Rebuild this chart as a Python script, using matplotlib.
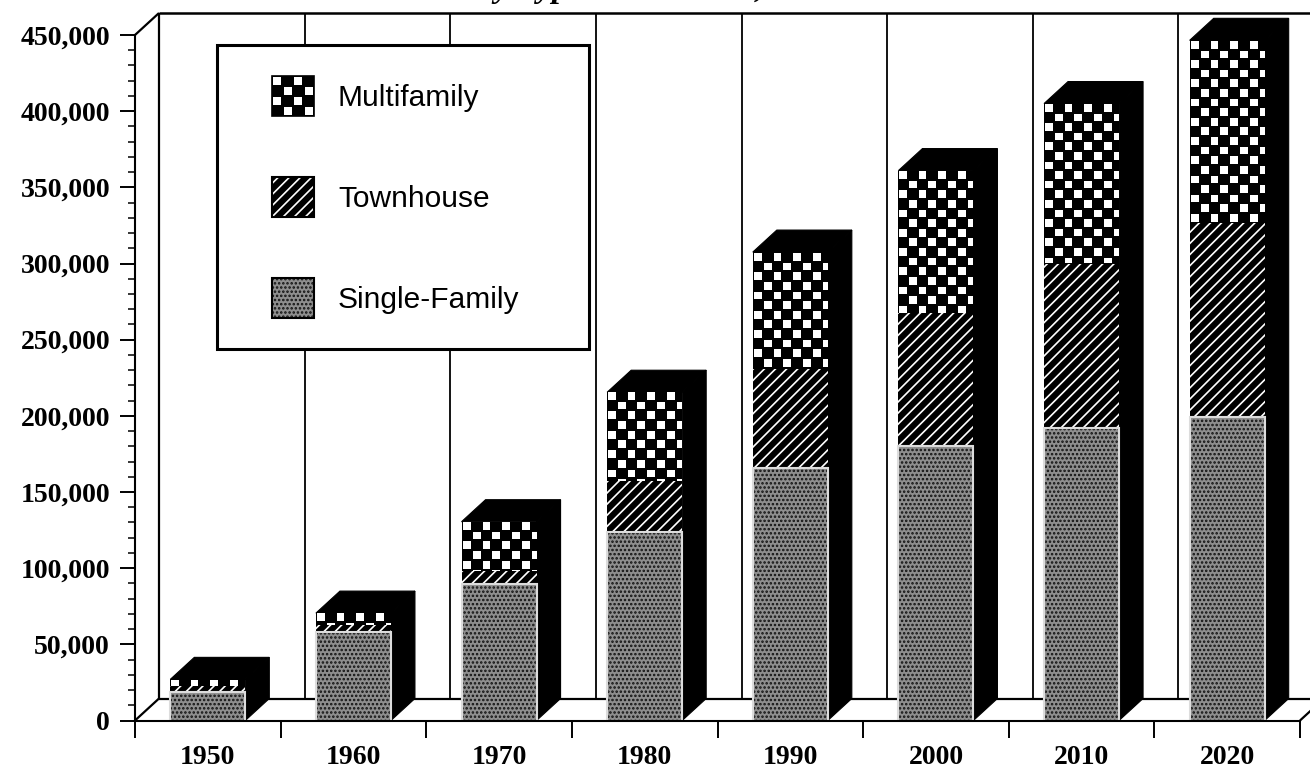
import numpy as np
import matplotlib
matplotlib.use('Agg')
import matplotlib.pyplot as plt
from matplotlib.patches import Polygon, Rectangle, Patch
from matplotlib.legend_handler import HandlerBase
from matplotlib.ticker import MultipleLocator, FuncFormatter

# ---------------- data ----------------
years = ['1950', '1960', '1970', '1980', '1990', '2000', '2010', '2020']
single_family = [19000, 58000, 89500, 124000, 166000, 180000, 192000, 199500]
townhouse = [3500, 4500, 8500, 33000, 65000, 87500, 108000, 127000]
multifamily = [4500, 8000, 32500, 58500, 76500, 93500, 105000, 120000]
series_names = ['Multifamily', 'Townhouse', 'Single-Family']
title_text = 'Total Units by Type and Decade, 1950-2020'
y_max = 450000
y_major = 50000
y_minor = 10000

plt.rcParams['hatch.linewidth'] = 1.2

W, H = 1310, 774
fig = plt.figure(figsize=(W / 100, H / 100), dpi=100)
ax_left, ax_right, ax_top, ax_bottom = 135, 1300, 35, 720.5
ax = fig.add_axes([ax_left / W, 1 - ax_bottom / H,
                   (ax_right - ax_left) / W, (ax_bottom - ax_top) / H])

n = len(years)
x = np.arange(n)
sf = np.array(single_family, float)
th = np.array(townhouse, float)
mf = np.array(multifamily, float)
totals = sf + th + mf

px_x = (ax_right - ax_left) / n
px_y = (ax_bottom - ax_top) / y_max
ddx = 24 / px_x      # depth offset in data units
ddy = 22 / px_y

SF_FACE = '#8e8e8e'
SF_DOTS = '#111111'

# ---------------- back wall & floor ----------------
lk = dict(color='black', clip_on=False, solid_capstyle='butt')
x0w = -0.5 + ddx
far = n - 0.5 + ddx + 1.0
# floor
ax.plot([-0.5, x0w], [0, ddy], lw=1.6, zorder=1, **lk)
ax.plot([x0w, far], [ddy, ddy], lw=1.6, zorder=1, **lk)
ax.plot([n - 0.5, n - 0.5 + ddx], [0, ddy], lw=1.6, zorder=1, **lk)
# wall
ax.plot([x0w, x0w], [ddy, y_max + ddy], lw=1.6, zorder=1, **lk)
ax.plot([-0.5, x0w], [y_max, y_max + ddy], lw=1.6, zorder=1, **lk)
ax.plot([x0w, far], [y_max + ddy, y_max + ddy], lw=1.8, zorder=1, **lk)
for k in range(1, n):
    ax.plot([k - 0.5 + ddx] * 2, [ddy, y_max + ddy], lw=1.3, zorder=1, **lk)

# ---------------- bars ----------------
bw = 0.515
# 3-D side and top faces
for xi, tot in zip(x, totals):
    xr = xi + bw / 2
    xl = xi - bw / 2
    ax.add_patch(Polygon([(xr, 0), (xr + ddx, ddy), (xr + ddx, tot + ddy), (xr, tot)],
                         closed=True, facecolor='black', edgecolor='black', lw=0.8,
                         zorder=3, clip_on=False))
    ax.add_patch(Polygon([(xl, tot), (xl + ddx, tot + ddy), (xr + ddx, tot + ddy), (xr, tot)],
                         closed=True, facecolor='black', edgecolor='black', lw=0.8,
                         zorder=3, clip_on=False))

b_sf = ax.bar(x, sf, bw, color=SF_FACE, edgecolor=SF_DOTS, hatch='....',
              linewidth=0, zorder=4)
for r in b_sf.patches:
    ax.add_patch(Rectangle(r.get_xy(), r.get_width(), r.get_height(), fill=False,
                           edgecolor='#dcdcdc', lw=1.5, zorder=4.5))
b_th = ax.bar(x, th, bw, bottom=sf, color='black', edgecolor='white', hatch='///',
              linewidth=0, zorder=4)
b_mf = ax.bar(x, mf, bw, bottom=sf + th, color='black', linewidth=0, zorder=4)

# checker texture for multifamily
cx = 9.8 / px_x
cy = 9.6 / px_y
S = 10
for xi, top, bot, rect in zip(x, totals, sf + th, b_mf.patches):
    h = top - bot
    if h <= 0:
        continue
    ncol = int(np.ceil(bw / cx)) + 1
    nrow = int(np.ceil(h / cy)) + 1
    rr, cc = np.mgrid[0:nrow * S, 0:ncol * S]
    ri, ci = rr // S, cc // S
    sr, sc = rr % S, cc % S
    white = ((ri + ci) % 2 == 0) & (sr >= 1) & (sr < 9) & (sc >= 1) & (sc < 9)
    img = np.where(white, 1.0, 0.0)
    xl = xi - bw / 2
    im = ax.imshow(img, cmap='gray', vmin=0, vmax=1,
                   extent=(xl, xl + ncol * cx, top - nrow * cy, top),
                   origin='upper', aspect='auto', interpolation='nearest', zorder=4.2)
    im.set_clip_path(rect)

ax.set_xlim(-0.5, n - 0.5)
ax.set_ylim(0, y_max)

# ---------------- axes styling ----------------
for s in ['top', 'right']:
    ax.spines[s].set_visible(False)
for s in ['left', 'bottom']:
    ax.spines[s].set_linewidth(1.5)
    ax.spines[s].set_zorder(6)

ax.yaxis.set_major_locator(MultipleLocator(y_major))
ax.yaxis.set_minor_locator(MultipleLocator(y_minor))
ax.yaxis.set_major_formatter(FuncFormatter(lambda v, p: f'{int(v):,}'))
ax.tick_params(axis='y', which='major', length=11, width=1.4, pad=7, direction='out')
ax.tick_params(axis='y', which='minor', length=5, width=1.1, direction='out')
for lab in ax.get_yticklabels():
    lab.set_fontfamily('Liberation Serif')
    lab.set_fontweight('bold')
    lab.set_fontsize(20)

ax.set_xticks(x)
ax.set_xticklabels(years, fontfamily='Liberation Serif', fontweight='bold', fontsize=20)
ax.set_xticks(np.arange(n + 1) - 0.5, minor=True)
ax.tick_params(axis='x', which='major', length=0, pad=18)
ax.tick_params(axis='x', which='minor', length=12, width=1.4, direction='out')


# ---------------- legend ----------------
class SwatchHandler(HandlerBase):
    def __init__(self, kind):
        super().__init__()
        self.kind = kind

    def create_artists(self, legend, orig_handle, xdescent, ydescent,
                       width, height, fontsize, trans):
        sh = height
        sw = height * 42 / 40
        x0 = width - sw - xdescent
        y0 = -ydescent
        arts = []
        if self.kind == 'mf':
            arts.append(Rectangle((x0, y0), sw, sh, facecolor='black', edgecolor='black', lw=1.2))
            nc = 4
            cw, ch = sw / nc, sh / nc
            for r in range(nc):
                for c in range(nc):
                    if (r + c) % 2 == 0:
                        arts.append(Rectangle((x0 + c * cw + 0.12 * cw, y0 + sh - (r + 1) * ch + 0.12 * ch),
                                              0.76 * cw, 0.76 * ch, facecolor='white', lw=0))
        elif self.kind == 'th':
            arts.append(Rectangle((x0, y0), sw, sh, facecolor='black', edgecolor='white',
                                  hatch='///', lw=0))
            arts.append(Rectangle((x0, y0), sw, sh, fill=False, edgecolor='black', lw=1.5))
        else:
            arts.append(Rectangle((x0, y0), sw, sh, facecolor=SF_FACE, edgecolor=SF_DOTS,
                                  hatch='....', lw=0))
            arts.append(Rectangle((x0, y0), sw, sh, fill=False, edgecolor='black', lw=1.5))
        for a in arts:
            a.set_transform(trans)
        return arts


leg_fs = 21.5
fs_px = leg_fs * 100 / 72
hh = (40 / fs_px - 0.245) / 0.65
handles = [Patch(label=s) for s in series_names]
hmap = {handles[0]: SwatchHandler('mf'), handles[1]: SwatchHandler('th'),
        handles[2]: SwatchHandler('sf')}
leg = ax.legend(handles, series_names, handler_map=hmap, loc='upper left',
                bbox_to_anchor=(217 / W, 1 - 45 / H, (589 - 217) / W, 0),
                bbox_transform=fig.transFigure, mode='expand', borderaxespad=0,
                borderpad=31 / fs_px, labelspacing=61 / fs_px, handlelength=66 / fs_px,
                handleheight=hh, handletextpad=24 / fs_px, fancybox=False, framealpha=1,
                edgecolor='black', prop={'family': 'Liberation Sans', 'size': leg_fs})
leg.get_frame().set_linewidth(2.2)
leg.set_zorder(10)

# ---------------- title (cut off at top) ----------------
fig.text(318 / W, 1 + 3 / H, title_text, ha='left', va='baseline',
         fontfamily='Liberation Serif', fontweight='bold', fontstyle='italic', fontsize=24)

fig.savefig('out.png', dpi=100, facecolor='white')
